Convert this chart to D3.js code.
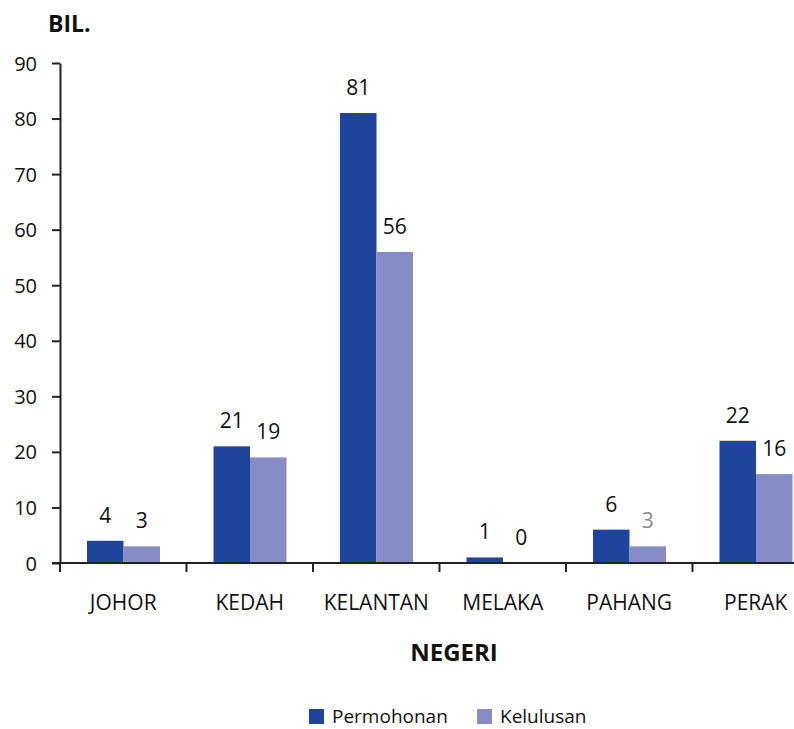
<!DOCTYPE html>
<meta charset="utf-8" />
<script src="https://d3js.org/d3.v7.min.js"></script>
<style>
  body { margin: 0; background: #fff; }
  text { font-family: "Open Sans", "Noto Sans", sans-serif; fill: #111; }
</style>
<body>
  <div id="my_dataviz"></div>
</body>
<script>
  // data
  var negeri = ["JOHOR", "KEDAH", "KELANTAN", "MELAKA", "PAHANG", "PERAK"];
  var permohonan = [4, 21, 81, 1, 6, 22];
  var kelulusan = [3, 19, 56, 0, 3, 16];
  var seriesNames = ["Permohonan", "Kelulusan"];
  var yTicks = [0, 10, 20, 30, 40, 50, 60, 70, 80, 90];

  var colors = { Permohonan: "#1f449b", Kelulusan: "#888cc6" };

  var W = 794, H = 729;
  var svg = d3.select("#my_dataviz").append("svg")
    .attr("width", W).attr("height", H);

  // scales (plot runs off the right edge like the original)
  var x = d3.scaleBand().domain(negeri).range([60, 819]);
  var x1 = d3.scaleBand().domain(seriesNames).range([27, 100]);
  var y = d3.scaleLinear().domain([0, 90]).range([563, 63]);

  var rows = negeri.map(function (n, i) {
    return { negeri: n, Permohonan: permohonan[i], Kelulusan: kelulusan[i] };
  });

  // bars
  var groups = svg.selectAll("g.grp").data(rows).enter().append("g")
    .attr("class", "grp")
    .attr("transform", function (d) { return "translate(" + x(d.negeri) + ",0)"; });

  groups.selectAll("rect")
    .data(function (d) { return seriesNames.map(function (s) { return { s: s, v: d[s], n: d.negeri }; }); })
    .enter().append("rect")
    .attr("x", function (d) { return x1(d.s); })
    .attr("y", function (d) { return y(d.v); })
    .attr("width", x1.bandwidth())
    .attr("height", function (d) { return y(0) - y(d.v); })
    .attr("fill", function (d) { return colors[d.s]; });

  // value labels
  groups.selectAll("text.val")
    .data(function (d) { return seriesNames.map(function (s) { return { s: s, v: d[s], n: d.negeri }; }); })
    .enter().append("text")
    .attr("class", "val")
    .attr("x", function (d) { return x1(d.s) + x1.bandwidth() / 2; })
    .attr("y", function (d) { return y(d.v) - 18; })
    .attr("text-anchor", "middle")
    .style("font-size", "21px")
    .style("fill", function (d) { return d.n === "PAHANG" && d.s === "Kelulusan" ? "#8a8a8a" : "#111"; })
    .text(function (d) { return d.v; });

  // y axis
  var yAxis = svg.append("g")
    .attr("transform", "translate(60,0)")
    .call(d3.axisLeft(y).tickValues(yTicks).tickSize(8).tickSizeOuter(0).tickPadding(15));
  yAxis.selectAll("path, line").attr("stroke", "#222").attr("stroke-width", 2);
  yAxis.selectAll("text").style("font-size", "20px").attr("dy", "0.35em");

  // x axis
  var xAxis = svg.append("g");
  xAxis.append("line")
    .attr("x1", 52).attr("x2", W).attr("y1", y(0)).attr("y2", y(0))
    .attr("stroke", "#222").attr("stroke-width", 2);
  xAxis.selectAll("line.tk").data(negeri).enter().append("line")
    .attr("class", "tk")
    .attr("x1", function (d) { return x(d); }).attr("x2", function (d) { return x(d); })
    .attr("y1", y(0)).attr("y2", y(0) + 9)
    .attr("stroke", "#222").attr("stroke-width", 2);
  xAxis.selectAll("text").data(negeri).enter().append("text")
    .attr("x", function (d) { return x(d) + x.bandwidth() / 2; })
    .attr("y", 610)
    .attr("text-anchor", "middle")
    .style("font-size", "21px")
    .text(function (d) { return d; });

  // axis titles
  svg.append("text").attr("x", 48).attr("y", 32)
    .style("font-size", "23px").style("font-weight", "bold").text("BIL.");
  svg.append("text").attr("x", 454).attr("y", 661).attr("text-anchor", "middle")
    .style("font-size", "24px").style("font-weight", "bold").text("NEGERI");

  // legend
  var legendX = [309, 477];
  var legend = svg.selectAll("g.leg").data(seriesNames).enter().append("g")
    .attr("class", "leg")
    .attr("transform", function (d, i) { return "translate(" + legendX[i] + ",709)"; });
  legend.append("rect").attr("width", 15).attr("height", 15)
    .attr("fill", function (d) { return colors[d]; });
  legend.append("text").attr("x", 23).attr("y", 14)
    .style("font-size", "19px").text(function (d) { return d; });
</script>
